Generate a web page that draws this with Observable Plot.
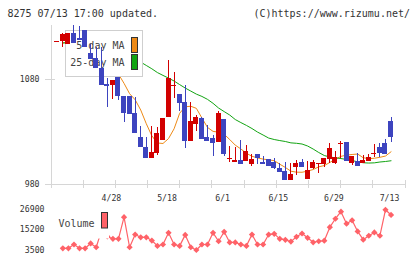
<!DOCTYPE html>
<html><head><meta charset="utf-8">
<script src="https://cdn.jsdelivr.net/npm/d3@7"></script>
<script src="https://cdn.jsdelivr.net/npm/@observablehq/plot@0.6"></script>
<style>
html,body{margin:0;padding:0;background:#fff;}
#chart{position:relative;width:420px;height:259px;overflow:hidden;background:#fff;}
#chart svg{position:absolute;left:0;top:0;}
</style></head><body><div id="chart"></div>
<script>
const headerLeft = "8275 07/13 17:00 updated.";
const headerRight = "(C)https://www.rizumu.net/";
const legendLabels = ["5-day MA", "25-day MA"];
const volumeLabel = "Volume";

const open = [1116.1,1116.9,1113.7,1123.9,1119.4,1127.1,1105.4,1100.3,1090.5,1075.5,
  1074.8,1081.9,1064.0,1064.0,1047.8,1024.9,1015.3,1004.5,1009.3,1022.3,
  1044.3,1074.3,1066.0,1058.3,1021.4,1037.6,1043.2,1025.2,1023.9,1020.1,
  1042.1,1004.9,1001.3,1002.9,1002.2,999.4,1008.7,1001.0,1003.6,1000.7,
  995.6,992.1,984.1,996.5,1000.7,984.8,995.6,999.5,999.1,1004.2,
  1000.3,1018.9,1020.1,1000.3,1002.2,1000.3,1002.2,1009.7,1015.3,1019.2,1040.2];
const high = [1116.4,1124.5,1123.9,1131.9,1130.9,1127.1,1113.7,1111.1,1110.6,1081.0,
  1079.3,1081.9,1064.0,1064.0,1063.4,1035.4,1024.6,1035.4,1034.2,1043.0,
  1098.4,1086.7,1066.0,1074.3,1058.3,1045.9,1044.3,1036.1,1026.5,1049.7,
  1042.1,1016.3,1015.6,1022.0,1017.0,1008.9,1008.7,1006.7,1003.6,1004.5,
  999.8,1000.7,999.8,1002.9,1003.6,1002.0,1002.9,999.8,1004.8,1019.2,
  1011.5,1021.4,1020.1,1006.7,1009.9,1007.4,1008.7,1018.2,1019.2,1023.3,1044.0];
const low = [1116.1,1110.6,1113.7,1115.0,1117.8,1110.6,1099.7,1090.5,1074.8,1053.8,
  1061.5,1060.2,1039.5,1047.1,1029.0,1015.6,1004.5,1004.5,1007.7,1022.3,
  1044.3,1062.0,1050.0,1014.7,1021.4,1030.9,1023.3,1021.4,1007.0,1020.1,
  1006.5,1001.3,1001.3,999.4,1002.2,997.5,999.1,999.4,997.5,994.0,
  991.7,984.1,984.1,988.9,996.5,984.8,994.6,990.5,996.5,999.8,
  999.1,1004.8,1002.2,998.4,997.5,1000.3,1002.2,1005.5,1005.5,1008.7,1020.1];
const close = [1116.4,1123.3,1123.9,1115.0,1117.8,1110.6,1099.7,1090.5,1074.8,1073.9,
  1079.3,1064.0,1048.1,1047.1,1029.0,1015.6,1004.5,1010.6,1028.7,1043.0,
  1081.5,1074.6,1057.1,1021.4,1040.2,1044.0,1023.3,1021.4,1019.4,1047.8,
  1008.7,1005.2,1002.9,999.4,1011.8,1003.9,1004.5,999.4,997.5,995.6,
  991.7,984.1,989.6,999.8,996.5,993.1,1000.7,999.8,1004.8,1014.4,
  1005.8,1019.2,1002.2,1006.7,997.5,1002.9,1006.1,1009.9,1009.9,1008.7,1024.9];
const ma5 = [null,1115,1117,1118,1119,1118,1113,1107,1099,1092,
  1087,1085.5,1076.7,1066.8,1061.0,1051.2,1038.1,1026.5,1019.7,1019.2,
  1023.9,1033.3,1048.1,1054.3,1054.8,1052.8,1043.6,1034.6,1030.8,1030.0,
  1028.0,1023.0,1017.6,1014.0,1009.8,1007.0,1005.4,1004.3,1003.5,1002.8,
  999.4,996.3,992.7,991.8,991.7,992.8,994.3,996.9,998.1,1001.1,
  1004.2,1006.9,1008.1,1008.7,1009.1,1005.6,1004.7,1005.1,1006.0,1007.2,1011.3];
const ma25 = [null,1115.5,1115,1114.5,1114,1113.5,1113,1112,1111,1110,
  1108.5,1107,1105,1102.5,1100,1097,1093.8,1090.6,1087.0,1084.3,
  1081.7,1078.9,1075.5,1072.2,1069.3,1066.4,1064.2,1061.4,1057.6,1053.1,
  1049.7,1046.4,1042.1,1039.2,1036.5,1033.5,1030.1,1027.3,1024.4,1023.0,
  1022.0,1021.1,1019.8,1019.4,1018.7,1016.8,1013.9,1010.6,1007.7,1006.3,
  1005.5,1004.8,1003.9,1002.9,1001.7,1000.8,1000.5,1000.7,1001.5,1002.0,1002.7];
const volume = [null,4500,4500,6700,4500,4500,7300,5100,15400,11400,
  10000,10000,22600,5100,12500,10900,10900,9000,5900,6700,
  13500,6700,5900,12300,5100,3500,6700,6700,13500,8600,
  14100,7900,7900,6700,5900,12500,6700,6700,12500,12900,
  10000,9400,8400,11200,13100,10600,8000,8600,8900,16800,
  21700,25800,18800,20800,14300,9500,11800,13700,11800,26900,23900];
const dateLabels = ["4/28","5/18","6/1","6/15","6/29","7/13"];
const dateLabelIndex = [10,20,30,40,50,60];
const priceTicks = [1080, 980];
const volumeTicks = [26900, 15200, 3500];

const RED = "#d20000", BLUE = "#3d44bf", ORANGE = "#ee8a16", GREEN = "#12a412", VOL = "#ff6268";
const GRID = "#d6d6d6", TXT = "#333", FONT = "DejaVu Sans Mono";
const xDomain = [-1.04, 62.6];
const priceDomain = [980, 1132];
const volDomain = [3500, 26900];
const gridTicks = d3.range(12).map(k => xDomain[0] + k * (xDomain[1] - xDomain[0]) / 11);

const idx = d3.range(close.length);
const candles = idx.map(i => ({i, o: open[i], h: high[i], l: low[i], c: close[i]}));
const upC = candles.filter(d => d.c >= d.o);
const dnC = candles.filter(d => d.c < d.o);
const HALF = 0.45;

function candleMarks(data, color) {
  return [
    Plot.ruleX(data, {x: "i", y1: "l", y2: "h", stroke: color, strokeWidth: 1, shapeRendering: "crispEdges"}),
    Plot.rect(data, {x1: d => d.i - HALF, x2: d => d.i + HALF, y1: d => Math.min(d.o, d.c), y2: d => Math.max(d.o, d.c), fill: color, shapeRendering: "crispEdges"}),
    Plot.ruleY(data.filter(d => Math.abs(d.o - d.c) < 1), {y: "c", x1: d => d.i - HALF, x2: d => d.i + HALF, stroke: color, strokeWidth: 1, shapeRendering: "crispEdges"})
  ];
}

function txt(g, s, x, y, opts = {}) {
  return g.append("text").attr("x", x).attr("y", y).attr("fill", opts.fill || TXT)
    .attr("font-size", opts.size || 10).attr("text-anchor", opts.anchor || "start")
    .attr("font-family", FONT).text(s);
}

function priceFrame(index, scales, values, dims) {
  const {x, y} = scales;
  const g = d3.create("svg:g");
  const xl = x(xDomain[0]), xr = x(xDomain[1]), yb = y(priceDomain[0]), yt = y(priceDomain[1]);
  const ln = (x1, y1, x2, y2) => g.append("line").attr("x1", x1).attr("y1", y1).attr("x2", x2).attr("y2", y2)
    .attr("stroke", GRID).attr("stroke-width", 1).attr("shape-rendering", "crispEdges");
  ln(xl, yt, xl, yb + 4);
  ln(xl - 6, yb, xr, yb);
  gridTicks.forEach(t => ln(x(t), yb - 4, x(t), yb + 4));
  priceTicks.forEach(v => {
    ln(xl - 6, y(v), xl + 4, y(v));
    txt(g, String(v), xl - 11.5, y(v) + 3, {size: 8.2, anchor: "end"});
  });
  dateLabels.forEach((s, k) => txt(g, s, x(dateLabelIndex[k]) - 1, yb + 17, {size: 8.2, anchor: "middle"}));
  txt(g, headerLeft, 7.5, 17, {size: 10});
  txt(g, headerRight, 410, 17, {size: 10, anchor: "end"});
  return g.node();
}

function priceLegend() {
  const g = d3.create("svg:g");
  g.append("rect").attr("x", 65.5).attr("y", 30.5).attr("width", 77).attr("height", 46)
    .attr("fill", "#fff").attr("stroke", "#cfcfcf");
  txt(g, legendLabels[0], 124.5, 49, {anchor: "end", fill: "#444"});
  txt(g, legendLabels[1], 124.5, 65.7, {anchor: "end", fill: "#444"});
  g.append("rect").attr("x", 131.5).attr("y", 37.5).attr("width", 6).attr("height", 15)
    .attr("fill", ORANGE).attr("stroke", "#333");
  g.append("rect").attr("x", 131.5).attr("y", 54.5).attr("width", 6).attr("height", 15)
    .attr("fill", GREEN).attr("stroke", "#333");
  return g.node();
}

function volFrame(index, scales) {
  const {y} = scales;
  const g = d3.create("svg:g");
  volumeTicks.forEach(v => txt(g, String(v), 44.5, y(v) + 3, {size: 8.2, anchor: "end"}));
  return g.node();
}

function volLegend() {
  const g = d3.create("svg:g");
  g.append("rect").attr("x", 55).attr("y", 207).attr("width", 54).attr("height", 31.5).attr("fill", "#fff");
  txt(g, volumeLabel, 58.5, 226.5, {fill: "#444"});
  g.append("rect").attr("x", 101.5).attr("y", 212.5).attr("width", 6).attr("height", 15.5)
    .attr("fill", VOL).attr("stroke", "#333");
  return g.node();
}

const pricePlot = Plot.plot({
  width: 420, height: 259,
  marginLeft: 51, marginRight: 15, marginTop: 25, marginBottom: 75,
  x: {domain: xDomain, axis: null},
  y: {domain: priceDomain, axis: null},
  style: {background: "transparent", overflow: "visible"},
  marks: [
    priceFrame,
    Plot.line(idx, {x: i => i, y: i => ma5[i], stroke: ORANGE, strokeWidth: 1}),
    Plot.line(idx, {x: i => i, y: i => ma25[i], stroke: GREEN, strokeWidth: 1}),
    priceLegend,
    ...candleMarks(dnC, BLUE),
    ...candleMarks(upC, RED)
  ]
});

const vIdx = idx.filter(i => volume[i] != null);
const volPlot = Plot.plot({
  width: 420, height: 259,
  marginLeft: 51, marginRight: 15, marginTop: 209.3, marginBottom: 9.5,
  x: {domain: xDomain, axis: null},
  y: {domain: volDomain, axis: null},
  style: {background: "transparent", overflow: "visible"},
  marks: [
    volFrame,
    Plot.line(vIdx, {x: i => i, y: i => volume[i], stroke: VOL, strokeWidth: 1.2}),
    Plot.dot(vIdx, {x: i => i, y: i => volume[i], symbol: "diamond2", r: 2.8, fill: VOL, stroke: "none"}),
    volLegend
  ]
});

const el = document.getElementById("chart");
el.appendChild(pricePlot);
el.appendChild(volPlot);
</script></body></html>
